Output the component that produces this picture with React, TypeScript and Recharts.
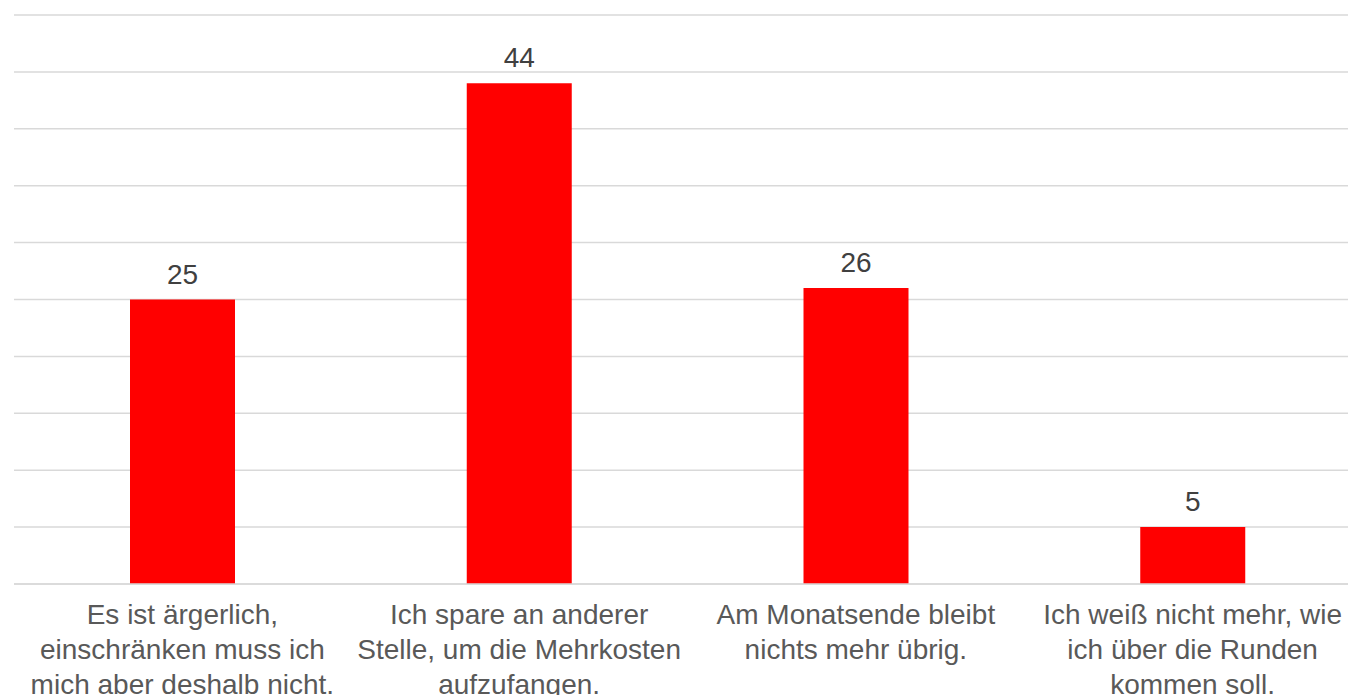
import { BarChart, Bar, XAxis, YAxis, CartesianGrid, LabelList } from "recharts";

const categories = [
  "Es ist ärgerlich,\neinschränken muss ich\nmich aber deshalb nicht.",
  "Ich spare an anderer\nStelle, um die Mehrkosten\naufzufangen.",
  "Am Monatsende bleibt\nnichts mehr übrig.",
  "Ich weiß nicht mehr, wie\nich über die Runden\nkommen soll.",
];
const values = [25, 44, 26, 5];
const yTicks = [0, 5, 10, 15, 20, 25, 30, 35, 40, 45, 50];

const data = categories.map((c, i) => ({ name: c, value: values[i] }));

const FONT = "'Liberation Sans', Arial, sans-serif";

function WrappedTick(props: any) {
  const { x, y, payload } = props;
  const lines = String(payload.value).split("\n");
  return (
    <text
      x={x}
      y={y}
      textAnchor="middle"
      fill="#595959"
      fontSize={28}
      fontFamily={FONT}
    >
      {lines.map((l, i) => (
        <tspan key={i} x={x} dy={i === 0 ? 32 : 35}>
          {l}
        </tspan>
      ))}
    </text>
  );
}

export default function App() {
  return (
    <div style={{ position: "absolute", left: 0, top: 0, background: "#fff" }}>
      <BarChart
        width={1361}
        height={700}
        data={data}
        margin={{ top: 15, right: 0, left: 14, bottom: 0 }}
      >
        <CartesianGrid vertical={false} stroke="#d9d9d9" strokeWidth={1.5} />
        <XAxis
          dataKey="name"
          height={116}
          interval={0}
          tickLine={false}
          axisLine={{ stroke: "#d9d9d9", strokeWidth: 1.5 }}
          tick={<WrappedTick />}
        />
        <YAxis hide domain={[0, 50]} ticks={yTicks} />
        <Bar dataKey="value" fill="#ff0000" barSize={105} isAnimationActive={false}>
          <LabelList
            dataKey="value"
            position="top"
            offset={16}
            fill="#404040"
            fontSize={28}
            fontFamily={FONT}
          />
        </Bar>
      </BarChart>
    </div>
  );
}
